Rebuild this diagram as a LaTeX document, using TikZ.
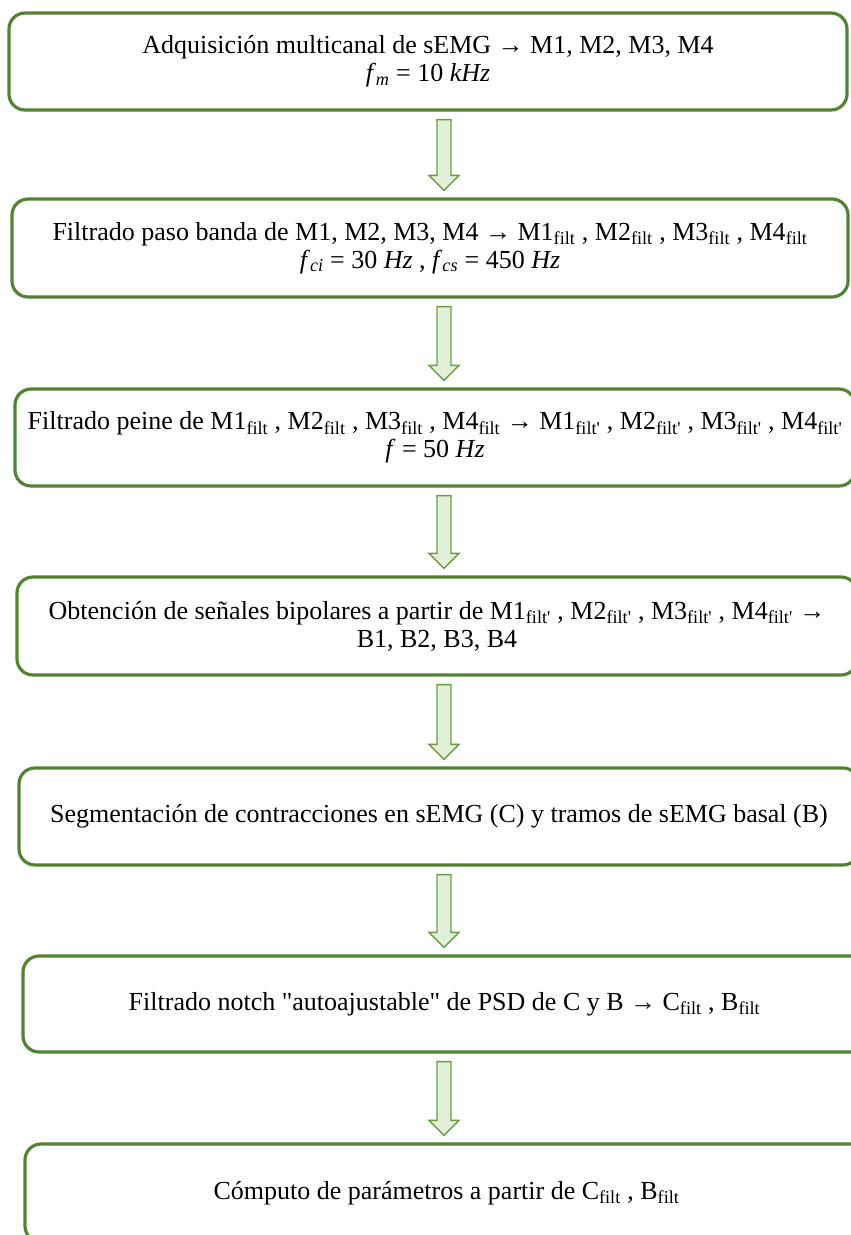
\documentclass[tikz,border=0pt]{standalone}
\usepackage{fontspec}
\setmainfont{Liberation Serif}
\newfontfamily\rawserif{Liberation Serif}
\usetikzlibrary{calc}
\definecolor{boxgreen}{HTML}{548235}
\definecolor{arrgreen}{HTML}{6A9B45}
\definecolor{arrfill}{HTML}{E2EFD9}
\newcommand{\sub}[1]{\textsubscript{#1}}
\newcommand{\fp}{\sub{filt{\rawserif '}}}
\newcommand{\ft}{\sub{filt}}
\newcommand{\dq}{{\rawserif "}}
\begin{document}
\begin{tikzpicture}[x=1pt,y=-1pt,
  stepbox/.style={draw=boxgreen, line width=3.2pt, rounded corners=16pt, align=center,
    font=\fontsize{26}{28}\selectfont, inner sep=0pt},
  barrow/.style={draw=arrgreen, fill=arrfill, line width=1.4pt, line join=miter}]
\useasboundingbox (0,0) rectangle (851,1235);
\clip (0,0) rectangle (851,1235);
\node[stepbox, minimum width=838pt, minimum height=97pt] (b1) at (428,61.5)
  {Adquisición multicanal de sEMG → M1, M2, M3, M4\\ \textit{f}\sub{\textit{m}} = 10 \textit{kHz}};
\node[stepbox, minimum width=836pt, minimum height=98pt] (b2) at (430,248)
  {Filtrado paso banda de M1, M2, M3, M4 → M1\ft\ , M2\ft\ , M3\ft\ , M4\ft\\ \textit{f}\sub{\textit{ci}} = 30 \textit{Hz} , \textit{f}\sub{\textit{cs}} = 450 \textit{Hz}};
\node[stepbox, minimum width=840pt, minimum height=97pt] (b3) at (435,437.5)
  {Filtrado peine de M1\ft\ , M2\ft\ , M3\ft\ , M4\ft\ → M1\fp\ , M2\fp\ , M3\fp\ , M4\fp\\ \textit{f} = 50 \textit{Hz}};
\node[stepbox, minimum width=840pt, minimum height=98pt] (b4) at (437,626)
  {Obtención de señales bipolares a partir de M1\fp\ , M2\fp\ , M3\fp\ , M4\fp\ →\\ B1, B2, B3, B4};
\node[stepbox, minimum width=840pt, minimum height=97pt] (b5) at (439,816.5)
  {Segmentación de contracciones en sEMG (C) y tramos de sEMG basal (B)};
\node[stepbox, minimum width=843pt, minimum height=96pt] (b6) at (444.5,1004)
  {Filtrado notch \dq autoajustable\dq\ de PSD de C y B → C\ft\ , B\ft};
\node[stepbox, minimum width=843pt, minimum height=98pt] (b7) at (446.5,1193)
  {Cómputo de parámetros a partir de C\ft\ , B\ft};
\foreach \a/\b in {b1/b2,b2/b3,b3/b4,b4/b5,b5/b6,b6/b7}{
  \draw[barrow] let \p1=($(\a.south)+(0,8)$), \p2=($(\b.north)+(0,-7)$) in
    (437,\y1) -- (451,\y1) -- (451,\y2+15pt) -- (459,\y2+15pt) -- (444,\y2)
    -- (429,\y2+15pt) -- (437,\y2+15pt) -- cycle;
}
\end{tikzpicture}
\end{document}
